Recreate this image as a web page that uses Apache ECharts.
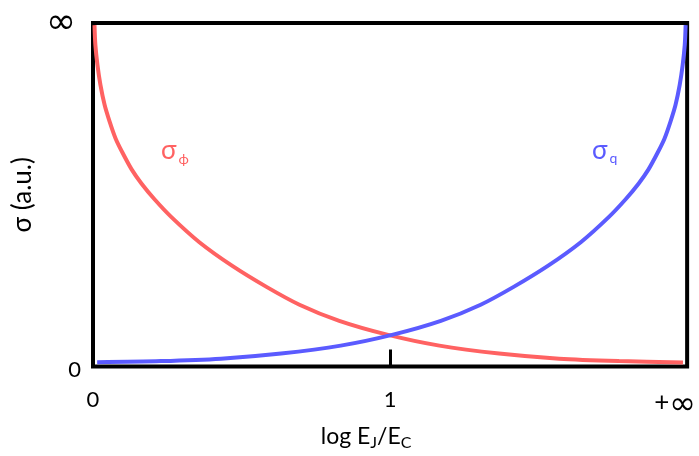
<!DOCTYPE html>
<html>
<head>
<meta charset="utf-8">
<style>
  html, body { margin: 0; padding: 0; background: #fff; }
  #chart { width: 699px; height: 456px; }
</style>
<script src="https://cdn.jsdelivr.net/npm/echarts@6/dist/echarts.min.js"></script>
</head>
<body>
<div id="chart"></div>
<script>
// Horizontal axis: 0 .. 1 .. +inf mapped onto 0 .. 1 .. 2
const xTickLabels = ['0', '1', '+∞'];
const yTickLabels = ['0', '∞'];

// Phase fluctuation sigma_phi
const phiX = [0.005, 0.008, 0.015, 0.025, 0.039, 0.056, 0.076, 0.099, 0.130, 0.163, 0.207, 0.264, 0.358, 0.469, 0.584, 0.695, 0.829, 0.990, 1.166, 1.367, 1.569, 1.771, 1.986];
const phiY = [0.994, 0.936, 0.878, 0.820, 0.762, 0.713, 0.664, 0.623, 0.574, 0.533, 0.487, 0.435, 0.362, 0.293, 0.232, 0.180, 0.133, 0.093, 0.061, 0.038, 0.023, 0.016, 0.012];

// Charge fluctuation sigma_q
const qX = [0.014, 0.229, 0.431, 0.633, 0.834, 1.010, 1.171, 1.305, 1.416, 1.531, 1.642, 1.736, 1.793, 1.837, 1.870, 1.901, 1.924, 1.944, 1.961, 1.975, 1.985, 1.992, 1.995];
const qY = [0.013, 0.016, 0.023, 0.038, 0.061, 0.093, 0.133, 0.180, 0.232, 0.293, 0.362, 0.435, 0.487, 0.533, 0.574, 0.623, 0.664, 0.713, 0.762, 0.820, 0.878, 0.936, 0.994];

const FONT = 'Lato, "Open Sans", sans-serif';
const SYM = '"Noto Sans", "DejaVu Sans", sans-serif';
const RED = '#ff6262';
const BLUE = '#5b5bff';

const zip = (xs, ys) => xs.map((x, i) => [x, ys[i]]);

const chart = echarts.init(document.getElementById('chart'));
chart.setOption({
  animation: false,
  grid: {
    left: 93, right: 11, top: 23, bottom: 88,
    show: true, borderColor: '#000', borderWidth: 4, backgroundColor: 'transparent'
  },
  xAxis: {
    type: 'value', min: 0, max: 2, interval: 1,
    axisLine: { show: false },
    splitLine: { show: false },
    axisTick: { show: true, inside: true, length: 17, lineStyle: { color: '#000', width: 3 } },
    axisLabel: {
      margin: 22,
      fontFamily: FONT, fontSize: 22, color: '#000',
      formatter: v => {
        const s = xTickLabels[Math.round(v)];
        return v === 2 ? '{plus|' + s.charAt(0) + '}{inf|' + s.slice(1) + '}' : s;
      },
      rich: {
        plus: { fontFamily: FONT, fontSize: 26, color: '#000', verticalAlign: 'middle', padding: [0, 0, 4, 0] },
        inf: { fontFamily: SYM, fontSize: 32, color: '#000', verticalAlign: 'middle', padding: [0, 24, 0, 0] }
      }
    },
    name: 'log E{sub|J}/E{sub|C}',
    nameLocation: 'middle',
    nameGap: 56,
    nameTextStyle: {
      fontFamily: FONT, fontSize: 23, color: '#000', padding: [0, 48, 0, 0],
      rich: { sub: { fontFamily: FONT, fontSize: 16, color: '#000', verticalAlign: 'bottom', padding: [12, 0, 0, 0] } }
    }
  },
  yAxis: {
    type: 'value', min: 0, max: 1, interval: 1,
    axisLine: { show: false },
    splitLine: { show: false },
    axisTick: { show: false },
    axisLabel: {
      margin: 12,
      fontFamily: FONT, fontSize: 22, color: '#000',
      formatter: v => (v === 1 ? '{inf|' + yTickLabels[1] + '}' : '{zero|' + yTickLabels[0] + '}'),
      rich: {
        inf: { fontFamily: SYM, fontSize: 36, color: '#000', padding: [0, 5, 0, 0] },
        zero: { fontFamily: FONT, fontSize: 22, color: '#000', padding: [6, 0, 0, 0] }
      }
    },
    name: 'σ (a.u.)',
    nameLocation: 'middle',
    nameGap: 56,
    nameTextStyle: { fontFamily: FONT, fontSize: 26, color: '#000' }
  },
  series: [
    {
      type: 'line', data: zip(phiX, phiY), smooth: 0.3, showSymbol: false, clip: false,
      lineStyle: { color: RED, width: 4 }
    },
    {
      type: 'line', data: zip(qX, qY), smooth: 0.3, showSymbol: false, clip: false,
      lineStyle: { color: BLUE, width: 4 }
    }
  ],
  graphic: [
    {
      type: 'text', left: 161, top: 138,
      style: {
        text: 'σ{s|ϕ}', fill: RED, font: '26px ' + FONT,
        rich: { s: { fontFamily: FONT, fontSize: 14, fill: RED, padding: [16, 0, 0, 2] } }
      }
    },
    {
      type: 'text', left: 592, top: 138,
      style: {
        text: 'σ{s|q}', fill: BLUE, font: '26px ' + FONT,
        rich: { s: { fontFamily: FONT, fontSize: 14, fill: BLUE, padding: [14, 0, 0, 2] } }
      }
    }
  ]
});
</script>
</body>
</html>
